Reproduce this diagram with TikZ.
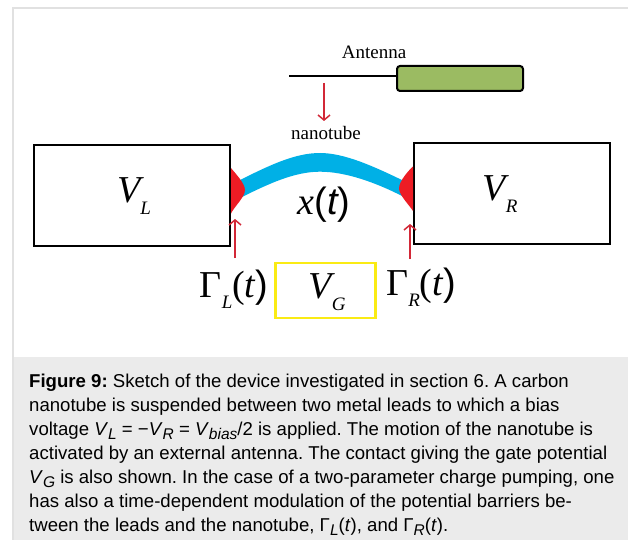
\documentclass[tikz,border=0pt]{standalone}
\usepackage{fontspec}
\setmainfont{Liberation Sans}
\newfontfamily\labelserif{Liberation Serif}
\usetikzlibrary{arrows.meta}
\definecolor{leafgreen}{RGB}{155,187,98}
\definecolor{tubeblue}{RGB}{0,176,230}
\definecolor{barrierred}{RGB}{237,28,36}
\definecolor{arrowred}{RGB}{210,40,55}
\definecolor{gatey}{RGB}{250,235,20}
\definecolor{capgray}{RGB}{235,235,235}
\definecolor{framegray}{RGB}{225,225,225}
\tikzset{
  x=1pt,y=-1pt,
  lead/.style={draw=black,line width=2pt,fill=white,minimum width=196pt,minimum height=101pt,inner sep=0pt},
  gatebox/.style={draw=gatey,line width=2.4pt,fill=white,minimum width=100pt,minimum height=55pt,inner sep=0pt},
  antbody/.style={draw=black,line width=2pt,fill=leafgreen,rounded corners=3pt,minimum width=126pt,minimum height=25pt,inner sep=0pt},
  redarrow/.style={draw=arrowred,line width=1.5pt,-{Straight Barb[length=5pt,width=12pt,line width=1.5pt]}},
  small/.style={font=\labelserif\fontsize{19}{22}\selectfont,inner sep=0pt},
  big/.style={font=\labelserif\fontsize{38}{42}\selectfont,inner sep=0pt},
  capline/.style={anchor=base west,inner sep=0pt,font=\fontsize{18.6}{22}\selectfont\frenchspacing},
}
\newcommand{\subtxt}[1]{\raisebox{-0.3em}{\fontsize{19}{22}\selectfont\itshape #1}}
\newcommand{\capsub}[1]{\raisebox{-0.25em}{\fontsize{15.5}{18}\selectfont\itshape #1}}
\begin{document}
\begin{tikzpicture}
\useasboundingbox (0,0) rectangle (628,540);
\fill[white] (0,0) rectangle (628,540);
\draw[framegray,line width=1.2pt] (628,8) -- (13,8) -- (13,540);
\fill[capgray] (14,357) rectangle (628,540);

\node[lead] (L) at (132,195.5) {};
\node[lead] (R) at (512,193.5) {};
\node[gatebox] (G) at (325.5,290.5) {};
\node[antbody] (A) at (460,78.5) {};
\coordinate (wire) at (289,76.5);
\draw[black,line width=2pt] (wire) -- (A.west |- wire);

\fill[tubeblue] (238,181) .. controls (270,165) and (295,153) .. (320,153)
  .. controls (345,153) and (375,167) .. (404,181) -- (404,197)
  .. controls (375,182) and (345,171.7) .. (320,171.7)
  .. controls (295,171.7) and (270,183) .. (240,198) -- cycle;
\fill[barrierred] (L.east |- 0,168) .. controls (234,172) and (245,183) .. (245,190)
  .. controls (245,197) and (234,207) .. (L.east |- 0,213.5) -- cycle;
\fill[barrierred] (R.west |- 0,166.5) .. controls (409,170) and (399,181) .. (399,188.5)
  .. controls (399,195) and (410,206) .. (R.west |- 0,211) -- cycle;

\node[small] (ant) at (374,52) {Antenna};
\node[small] (nano) at (326,133) {nanotube};
\coordinate (a1) at (324,83);
\coordinate (a2) at (324,121);
\draw[redarrow] (a1) -- (a2);

\coordinate (gl1) at (235,258);
\coordinate (gl2) at (235,219);
\coordinate (gr1) at (410,259);
\coordinate (gr2) at (410,224);
\draw[redarrow] (gl1) -- (gl2);
\draw[redarrow] (gr1) -- (gr2);

\node[big] (VL) at (134,196) {\itshape V\subtxt{L}};
\node[big] (VR) at (500,194) {\itshape V\subtxt{R}};
\node[big] (VG) at (327,292) {\itshape V\subtxt{G}};
\node[big] (xt) at (324,205) {\itshape x\normalfont(\itshape t\normalfont)};
\node[big] (GL) at (234,289) {Γ\subtxt{L}(\itshape t\normalfont)};
\node[big] (GR) at (421,287) {Γ\subtxt{R}(\itshape t\normalfont)};

\node[capline] (c1) at (29,387) {\textbf{Figure 9:} Sketch of the device investigated in section 6. A carbon};
\node[capline] (c2) at (29,411) {nanotube is suspended between two metal leads to which a bias};
\node[capline] (c3) at (29,435) {voltage \textit{V}\capsub{L} = −\textit{V}\capsub{R} = \textit{V}\capsub{bias}/2 is applied. The motion of the nanotube is};
\node[capline] (c4) at (29,459) {activated by an external antenna. The contact giving the gate potential};
\node[capline] (c5) at (29,483) {\textit{V}\capsub{G} is also shown. In the case of a two-parameter charge pumping, one};
\node[capline] (c6) at (29,507) {has also a time-dependent modulation of the potential barriers be-};
\node[capline] (c7) at (29,531) {tween the leads and the nanotube, Γ\capsub{L}(\textit{t}), and Γ\capsub{R}(\textit{t}).};
\end{tikzpicture}
\end{document}
